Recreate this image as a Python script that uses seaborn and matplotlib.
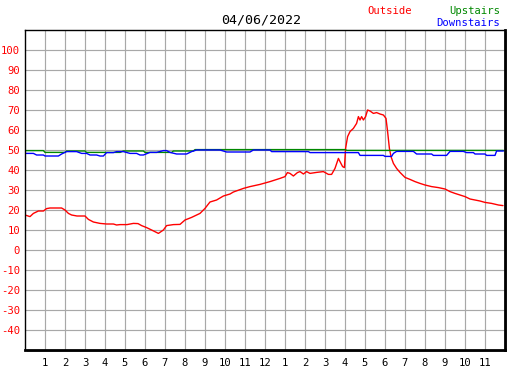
import matplotlib
matplotlib.use("Agg")
import matplotlib.pyplot as plt
import seaborn as sns
import pandas as pd
from matplotlib.patches import Rectangle

# ---- data ----
title_text = "04/06/2022"
hour_ticks = list(range(1, 24))
hour_labels = ["1", "2", "3", "4", "5", "6", "7", "8", "9", "10", "11", "12",
               "1", "2", "3", "4", "5", "6", "7", "8", "9", "10", "11"]
temp_ticks = [-40, -30, -20, -10, 0, 10, 20, 30, 40, 50, 60, 70, 80, 90, 100]

outside_hours = [0.0, 0.25, 0.42, 0.67, 0.92, 1.08, 1.25, 1.83, 2.0, 2.17, 2.33, 2.6, 3.0,
                 3.17, 3.42, 3.75, 4.08, 4.42, 4.58, 4.75, 5.1, 5.42, 5.65, 5.83, 6.08,
                 6.33, 6.67, 6.92, 7.08, 7.42, 7.75, 8.0, 8.33, 8.75, 9.0, 9.17, 9.25,
                 9.58, 9.92, 10.25, 10.42, 10.92, 11.25, 11.75, 12.25, 12.75, 13.0, 13.12,
                 13.25, 13.42, 13.62, 13.75, 13.92, 14.08, 14.25, 14.58, 14.92, 15.17,
                 15.33, 15.5, 15.67, 15.75, 15.88, 15.97, 16.03, 16.13, 16.25, 16.42,
                 16.58, 16.67, 16.75, 16.83, 16.92, 17.03, 17.13, 17.25, 17.42, 17.58,
                 17.75, 17.92, 18.05, 18.13, 18.22, 18.3, 18.42, 18.58, 18.75, 19.0,
                 19.25, 19.5, 19.75, 20.0, 20.33, 20.67, 21.0, 21.25, 21.5, 21.75, 22.0,
                 22.25, 22.5, 22.75, 23.0, 23.33, 23.67, 23.9]
outside_temps = [17.5, 16.7, 18.3, 19.5, 19.5, 20.7, 21.0, 21.0, 20.0, 18.3, 17.5, 17.0, 17.0,
                 15.3, 14.0, 13.3, 13.0, 13.0, 12.5, 12.7, 12.7, 13.3, 13.2, 12.2, 11.2,
                 10.0, 8.3, 10.0, 12.2, 12.7, 12.8, 15.0, 16.3, 18.3, 20.8, 23.0, 24.0,
                 25.0, 27.0, 28.0, 29.0, 30.8, 31.7, 32.8, 34.2, 35.8, 36.7, 38.7,
                 38.3, 37.0, 38.7, 39.2, 38.0, 39.2, 38.3, 38.8, 39.2, 37.8,
                 37.8, 40.8, 45.8, 44.2, 41.7, 41.2, 50.8, 56.7, 59.2, 60.8,
                 63.3, 66.7, 65.0, 66.7, 65.0, 66.7, 70.0, 69.5, 68.3, 68.7,
                 68.0, 67.5, 65.8, 59.2, 50.8, 46.7, 43.3, 40.8, 38.8, 36.3,
                 35.3, 34.2, 33.3, 32.5, 31.7, 31.2, 30.5, 29.2, 28.3, 27.5, 26.7,
                 25.5, 25.0, 24.5, 23.8, 23.3, 22.5, 22.2]

upstairs_hours = [0.0, 0.92, 1.0, 2.0, 2.08, 3.0, 3.08, 4.75, 4.92, 5.92, 6.0, 7.33,
                  7.42, 8.42, 8.5, 16.0, 16.1, 23.92]
upstairs_temps = [49.7, 49.7, 48.8, 48.8, 49.5, 49.5, 48.8, 48.8, 49.5, 49.5, 48.8, 48.8,
                  49.5, 49.5, 50.2, 50.2, 49.8, 49.8]

downstairs_hours = [0.0, 0.42, 0.58, 0.92, 1.0, 1.67, 1.83, 2.08, 2.58, 2.83, 3.08, 3.25,
                    3.58, 3.75, 3.92, 4.08, 4.42, 4.58, 4.92, 5.25, 5.58, 5.75, 5.92,
                    6.25, 6.58, 6.92, 7.08, 7.25, 7.58, 8.08, 8.33, 8.58, 9.75, 10.08,
                    11.25, 11.42, 12.25, 12.33, 14.17, 14.25, 16.67, 16.75, 17.92, 18.0,
                    18.33, 18.42, 18.58, 19.42, 19.58, 20.33, 20.42, 21.08, 21.25, 21.92,
                    22.08, 22.42, 22.5, 23.0, 23.08, 23.5, 23.58, 23.92]
downstairs_temps = [48.3, 48.3, 47.5, 47.5, 47.0, 47.0, 48.0, 49.2, 49.2, 48.3, 48.3, 47.5,
                    47.5, 47.0, 47.0, 48.7, 48.7, 49.2, 49.2, 48.3, 48.3, 47.5, 47.5,
                    48.8, 48.8, 49.7, 49.7, 48.8, 48.0, 48.0, 49.2, 50.0, 50.0, 49.0,
                    49.0, 50.0, 50.0, 49.2, 49.2, 48.7, 48.7, 47.3, 47.3, 46.8,
                    46.8, 48.3, 49.3, 49.3, 48.0, 48.0, 47.3, 47.3, 49.3, 49.3,
                    48.7, 48.7, 48.0, 48.0, 47.3, 47.3, 49.5, 49.5]

series = [
    ("Outside", outside_hours, outside_temps, "#ff0000"),
    ("Upstairs", upstairs_hours, upstairs_temps, "#008800"),
    ("Downstairs", downstairs_hours, downstairs_temps, "#0000ff"),
]

# ---- figure ----
sns.set_theme(style="white")
plt.rcParams["font.family"] = ["DejaVu Sans Mono", "DejaVu Sans"]

W, H = 527, 370
fig = plt.figure(figsize=(W / 100, H / 100), dpi=100)
fig.patch.set_facecolor("white")
L, T, R, B = 25, 30, 505, 350
ax = fig.add_axes([L / W, 1 - B / H, (R - L) / W, (B - T) / H])
ax.set_facecolor("white")

# drop shadow behind axes
shadow = Rectangle(((L + 2) / W, 1 - (B + 2) / H), (R - L) / W, (B - T) / H,
                   transform=fig.transFigure, facecolor="#999999", edgecolor="none", zorder=-5)
fig.patches.append(shadow)

ax.set_xlim(0, 24)
ax.set_ylim(-50, 110)

ax.set_xticks(hour_ticks)
ax.set_xticklabels(hour_labels)
ax.set_yticks(temp_ticks)
ax.set_yticklabels([str(v) for v in temp_ticks])

ax.grid(True, which="major", axis="both", color="#a8a8a8", linewidth=0.85)
ax.set_axisbelow(True)

for name, xs, ys, col in series:
    df = pd.DataFrame({"hour": xs, "temp": ys})
    sns.lineplot(data=df, x="hour", y="temp", ax=ax, color=col, linewidth=1.0,
                 estimator=None, sort=False, legend=False)

ax.set_xlabel("")
ax.set_ylabel("")

for s in ["top", "left"]:
    ax.spines[s].set_color("black")
    ax.spines[s].set_linewidth(1.0)
for s in ["right", "bottom"]:
    ax.spines[s].set_color("black")
    ax.spines[s].set_linewidth(2.0)

ax.tick_params(axis="y", which="major", direction="in", length=3.5, width=1.0,
               color="black", labelcolor="#ff0000", labelsize=7.6, pad=3.5)
ax.tick_params(axis="x", direction="in", length=3.5, width=1.0, color="black",
               labelcolor="black", labelsize=7.6, pad=6)

fig.text(261 / W, 1 - 20 / H, title_text, ha="center", va="center", fontsize=9.6, color="black")
fig.text(390 / W, 1 - 11 / H, "Outside", ha="center", va="center", fontsize=7.6, color="#ff0000")
fig.text(500 / W, 1 - 11 / H, "Upstairs", ha="right", va="center", fontsize=7.6, color="#008800")
fig.text(500 / W, 1 - 23 / H, "Downstairs", ha="right", va="center", fontsize=7.6, color="#0000ff")

fig.savefig("out.png", dpi=100, facecolor="white")
